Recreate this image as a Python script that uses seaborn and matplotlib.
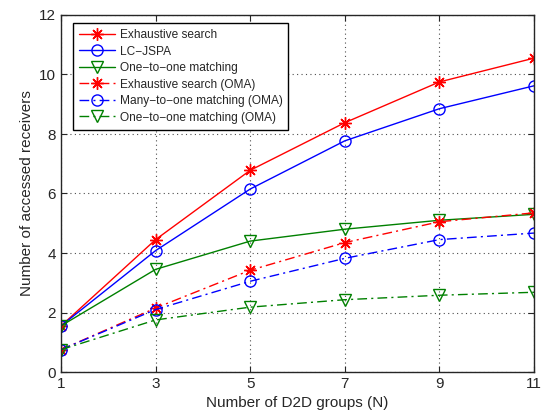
import seaborn as sns
import matplotlib.pyplot as plt
import pandas as pd

groups = [1, 3, 5, 7, 9, 11]

exhaustive = [1.55, 4.45, 6.78, 8.38, 9.75, 10.55]
lc_jspa = [1.55, 4.08, 6.15, 7.77, 8.85, 9.62]
one_to_one = [1.55, 3.45, 4.4, 4.8, 5.1, 5.3]
exhaustive_oma = [0.75, 2.15, 3.42, 4.35, 5.05, 5.35]
many_to_one_oma = [0.75, 2.1, 3.05, 3.82, 4.45, 4.67]
one_to_one_oma = [0.75, 1.75, 2.18, 2.43, 2.58, 2.68]

series = [
    ('Exhaustive search', exhaustive, 'red', (8, 2, 0), '-'),
    ('LC\u2212JSPA', lc_jspa, 'blue', 'o', '-'),
    ('One\u2212to\u2212one matching', one_to_one, 'green', 'v', '-'),
    ('Exhaustive search (OMA)', exhaustive_oma, 'red', (8, 2, 0), '-.'),
    ('Many\u2212to\u2212one matching (OMA)', many_to_one_oma, 'blue', 'o', '-.'),
    ('One\u2212to\u2212one matching (OMA)', one_to_one_oma, 'green', 'v', '-.'),
]

sns.set_style('ticks')
plt.rcParams['font.family'] = ['Liberation Sans', 'DejaVu Sans']
plt.rcParams['xtick.direction'] = 'in'
plt.rcParams['ytick.direction'] = 'in'

fig = plt.figure(figsize=(5.48, 4.15), dpi=100)
ax = fig.add_axes([61 / 548, 1 - 372 / 415, 473 / 548, 357 / 415])

for name, vals, color, marker, ls in series:
    df = pd.DataFrame({'N': groups, 'val': vals})
    star = not isinstance(marker, str)
    kw = dict(dashes=(7, 3, 1.5, 3)) if ls == '-.' else dict(linestyle='-')
    sns.lineplot(data=df, x='N', y='val', ax=ax, color=color, marker=marker,
                 linewidth=1.0, markersize=9 if star else 8,
                 markerfacecolor='none', markeredgecolor=color,
                 markeredgewidth=1.0, label=name, **kw)

ax.set_xlim(1, 11)
ax.set_ylim(0, 12)
ax.set_xticks(groups)
ax.set_yticks(range(0, 13, 2))
ax.grid(True, linestyle=(0, (1, 3)), color='0.3', linewidth=0.8)
ax.tick_params(labelsize=11, length=4, top=True, right=True)
for sp in ax.spines.values():
    sp.set_linewidth(1.0)
ax.set_xlabel('Number of D2D groups (N)', fontsize=11)
ax.set_ylabel('Number of accessed receivers', fontsize=11)

leg = ax.legend(loc='upper left', bbox_to_anchor=(12 / 473, 1 - 8 / 357),
                fontsize=8.6, frameon=True, fancybox=False,
                edgecolor='black', framealpha=1, handlelength=3.0,
                borderpad=0.5, labelspacing=0.38, handletextpad=0.4,
                borderaxespad=0)
leg.get_frame().set_linewidth(1.0)

fig.savefig('out.png', dpi=100)
